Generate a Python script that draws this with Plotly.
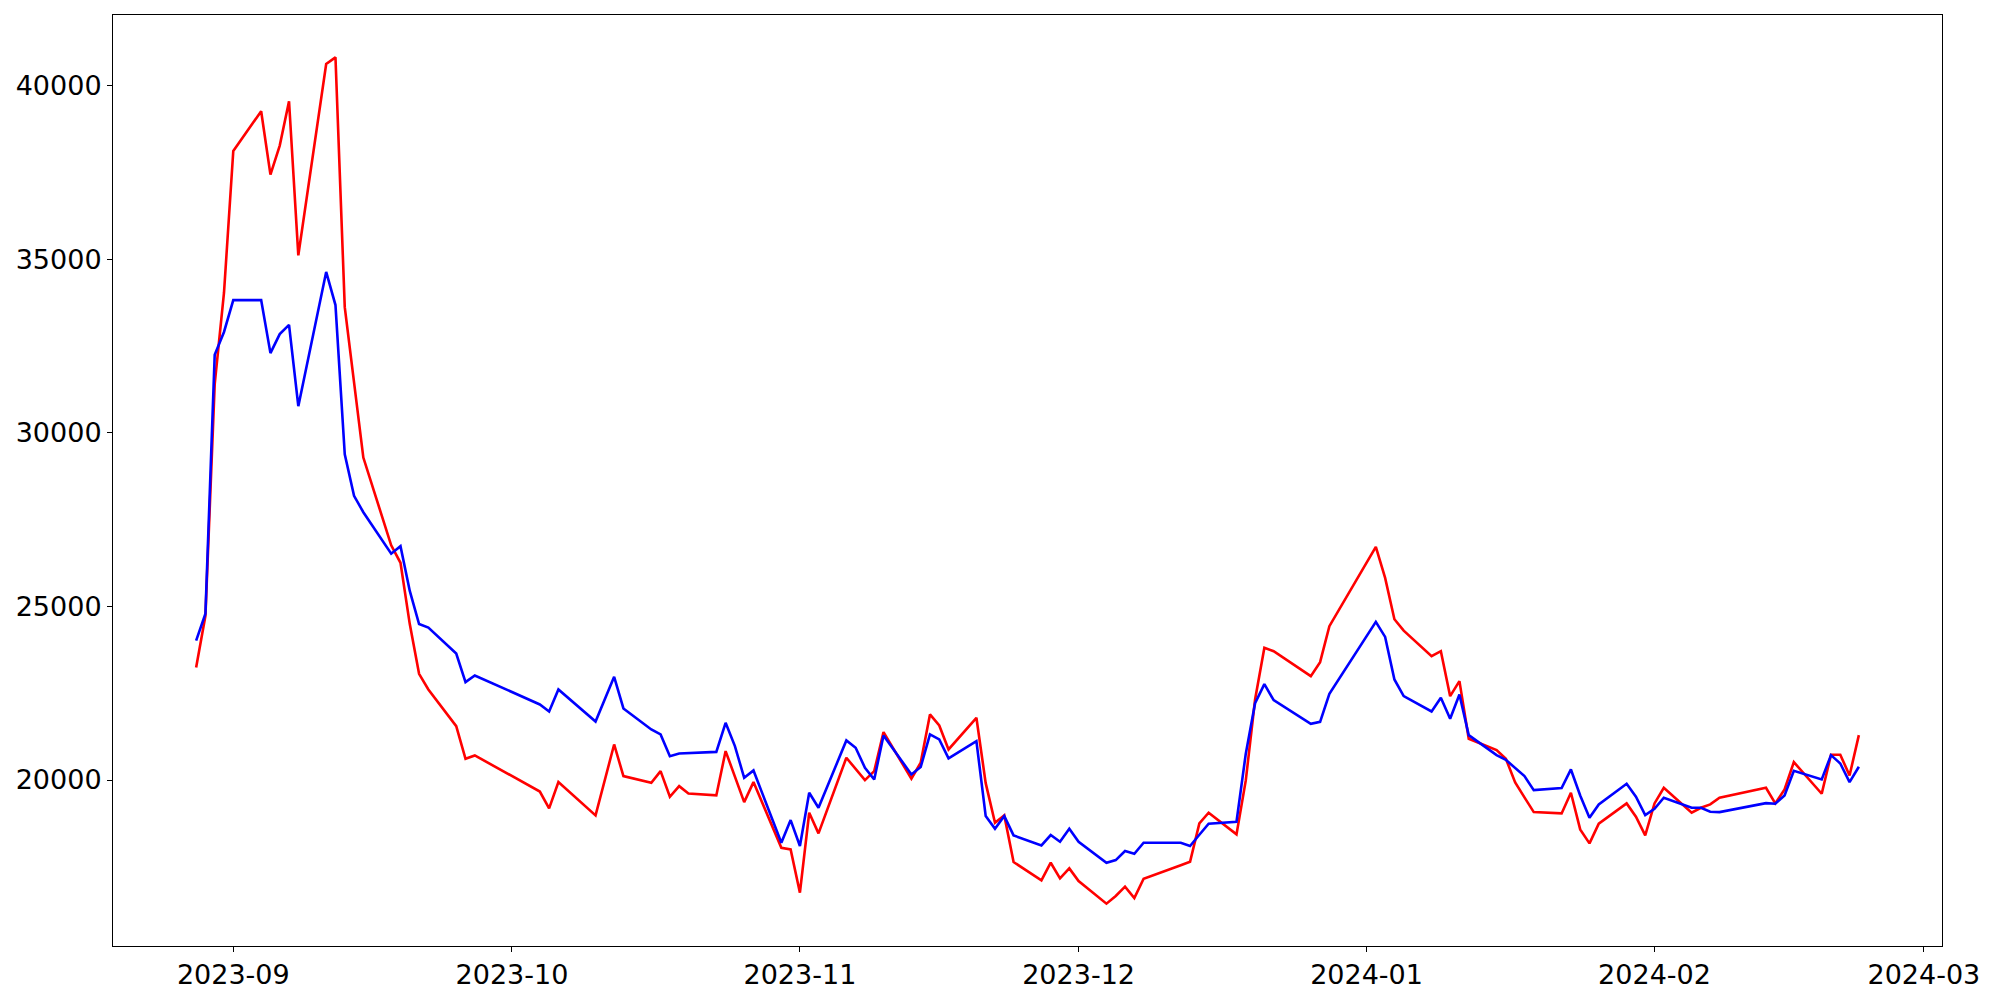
import plotly.graph_objects as go
import pandas as pd

dates = [
    "2023-08-28", "2023-08-29", "2023-08-30", "2023-08-31",
    "2023-09-01", "2023-09-04", "2023-09-05", "2023-09-06", "2023-09-07", "2023-09-08",
    "2023-09-11", "2023-09-12", "2023-09-13", "2023-09-14", "2023-09-15",
    "2023-09-18", "2023-09-19", "2023-09-20", "2023-09-21", "2023-09-22",
    "2023-09-25", "2023-09-26", "2023-09-27",
    "2023-10-04", "2023-10-05", "2023-10-06", "2023-10-10", "2023-10-12", "2023-10-13",
    "2023-10-16", "2023-10-17", "2023-10-18", "2023-10-19", "2023-10-20",
    "2023-10-23", "2023-10-24", "2023-10-25", "2023-10-26", "2023-10-27",
    "2023-10-30", "2023-10-31",
    "2023-11-01", "2023-11-02", "2023-11-03", "2023-11-06", "2023-11-07", "2023-11-08",
    "2023-11-09", "2023-11-10", "2023-11-13", "2023-11-14", "2023-11-15", "2023-11-16",
    "2023-11-17", "2023-11-20", "2023-11-21", "2023-11-22", "2023-11-23", "2023-11-24",
    "2023-11-27", "2023-11-28", "2023-11-29", "2023-11-30",
    "2023-12-01", "2023-12-04", "2023-12-05", "2023-12-06", "2023-12-07", "2023-12-08",
    "2023-12-12", "2023-12-13", "2023-12-14", "2023-12-15", "2023-12-18", "2023-12-19",
    "2023-12-20", "2023-12-21", "2023-12-22", "2023-12-26", "2023-12-27", "2023-12-28",
    "2024-01-02", "2024-01-03", "2024-01-04", "2024-01-05", "2024-01-08", "2024-01-09",
    "2024-01-10", "2024-01-11", "2024-01-12", "2024-01-15", "2024-01-16", "2024-01-17",
    "2024-01-18", "2024-01-19", "2024-01-22", "2024-01-23", "2024-01-24", "2024-01-25",
    "2024-01-26", "2024-01-29", "2024-01-30", "2024-01-31",
    "2024-02-01", "2024-02-02", "2024-02-05", "2024-02-06", "2024-02-07", "2024-02-08",
    "2024-02-13", "2024-02-14", "2024-02-15", "2024-02-16", "2024-02-19", "2024-02-20",
    "2024-02-21", "2024-02-22", "2024-02-23",
]

red_values = [
    23238, 24729, 31400, 34030,
    38112, 39257, 37432, 38267, 39544, 35107,
    40617, 40808, 33615, 31450, 29285,
    26757, 26255, 24490, 23059, 22607,
    21552, 20612, 20708,
    19670, 19183, 19940, 18981, 21024, 20113,
    19921, 20257, 19518, 19825, 19614,
    19557, 20833, 20094, 19365, 19941,
    18051, 18003,
    16756, 19058, 18464, 20641, 20305, 19998,
    20257, 21379, 20037, 20497, 21888, 21571,
    20881, 21792, 19910, 18770, 18981, 17638,
    17111, 17619, 17169, 17457,
    17092, 16440, 16660, 16929, 16603, 17159,
    17547, 17648, 18751, 19058, 18435, 19990,
    22319, 23806, 23710, 22990, 23393, 24429,
    26712, 25820, 24630, 24300, 23566, 23710,
    22415, 22847, 21187, 20861, 20612, 19930,
    19500, 19077, 19039, 19634, 18579, 18176,
    18742, 19327, 18943, 18406,
    19327, 19778, 19058, 19202, 19298, 19490,
    19778, 19327, 19730, 20516, 19605, 20727,
    20727, 20132, 21293,
]

blue_values = [
    24013, 24789, 32244, 32900,
    33818, 33818, 32292, 32840, 33103, 30765,
    34629, 33675, 29381, 28181, 27711,
    26518, 26733, 25445, 24490, 24390,
    23643, 22818, 23010,
    22175, 21974, 22607, 21686, 22971, 22060,
    21456, 21312, 20688, 20765, 20775,
    20810, 21648, 20977, 20065, 20276,
    18195, 18847,
    18099, 19634, 19202, 21140, 20929, 20353,
    20017, 21283, 20161, 20372, 21312, 21168,
    20622, 21120, 18963, 18598, 18962, 18406,
    18118, 18416, 18224, 18598,
    18224, 17620, 17696, 17955, 17878, 18195,
    18195, 18099, 18425, 18742, 18799, 20760,
    22210, 22760, 22300, 21619, 21677, 22482,
    24554, 24122, 22895, 22415, 21974, 22367,
    21763, 22463, 21293, 20718, 20580, 20340,
    20113, 19710, 19768, 20305, 19557, 18914,
    19298, 19893, 19519, 18991,
    19173, 19490, 19202, 19202, 19087, 19077,
    19336, 19317, 19557, 20267, 20017, 20717,
    20478, 19941, 20382,
]

x = pd.to_datetime(dates)

fig = go.Figure()
fig.add_trace(go.Scatter(x=x, y=red_values, mode="lines",
                         line=dict(color="#ff0000", width=2.6), showlegend=False))
fig.add_trace(go.Scatter(x=x, y=blue_values, mode="lines",
                         line=dict(color="#0000ff", width=2.6), showlegend=False))

# matplotlib-like 5% auto margins
xmin, xmax = x.min(), x.max()
xpad = (xmax - xmin) * 0.05
ally = red_values + blue_values
ymin, ymax = min(ally), max(ally)
ypad = (ymax - ymin) * 0.05

axis_common = dict(
    showline=True, linecolor="black", linewidth=1, mirror=True,
    ticks="outside", ticklen=5, tickwidth=1, tickcolor="black",
    showgrid=False, zeroline=False, automargin=False,
    tickfont=dict(family="DejaVu Sans", size=27, color="black"),
)

fig.update_xaxes(
    range=[(xmin - xpad).isoformat(), (xmax + xpad).isoformat()],
    tick0="2023-09-01", dtick="M1", tickformat="%Y-%m",
    **axis_common,
)
fig.update_yaxes(
    range=[ymin - ypad, ymax + ypad],
    tick0=0, dtick=5000, tickformat="d",
    **axis_common,
)

# page body has an 8px default margin; compensate so the axes box
# lands where the reference has it
fig.update_layout(
    width=1984, height=984, autosize=False,
    margin=dict(l=105, r=50, t=7, b=46),
    paper_bgcolor="white", plot_bgcolor="white",
    font=dict(family="DejaVu Sans", color="black"),
)

fig.write_html("out.html")
